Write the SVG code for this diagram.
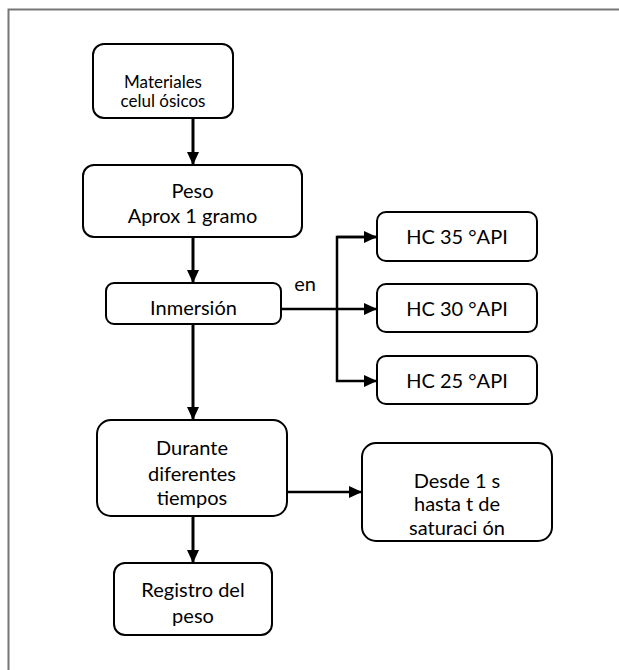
<svg xmlns="http://www.w3.org/2000/svg" width="619" height="670" viewBox="0 0 619 670">
<style>
.box{fill:#fff;stroke:#000;stroke-width:2}
.t{font-family:Lato,"Open Sans",sans-serif;font-size:20px;fill:#000;text-anchor:middle}
.s{font-size:17px}
.c{stroke:#000;stroke-width:3;fill:none}
.c2{stroke:#000;stroke-width:2.5;fill:none}
</style>
<defs>
<marker id="ah" markerUnits="userSpaceOnUse" markerWidth="14" markerHeight="14" refX="13" refY="7" orient="auto">
<path d="M0,1 L13,7 L0,13 Z" fill="#000"/>
</marker>
</defs>
<path d="M8.5,670 L8.5,9.5 L619,9.5" fill="none" stroke="#777" stroke-width="2"/>
<g id="connectors">
<line class="c" x1="193" y1="118" x2="193" y2="165" marker-end="url(#ah)"/>
<line class="c" x1="193" y1="237" x2="193" y2="283" marker-end="url(#ah)"/>
<line class="c" x1="193" y1="324" x2="193" y2="420" marker-end="url(#ah)"/>
<line class="c" x1="193" y1="516" x2="193" y2="563" marker-end="url(#ah)"/>
<line class="c2" x1="281" y1="309" x2="377" y2="309" marker-end="url(#ah)"/>
<polyline class="c2" points="377,237 337,237 337,381 377,381" marker-end="url(#ah)"/>
<line class="c2" x1="337" y1="237" x2="377" y2="237" marker-end="url(#ah)"/>
<line class="c2" x1="287" y1="492" x2="362" y2="492" marker-end="url(#ah)"/>
<text class="t" x="305" y="291">en</text>
</g>
<g id="n1"><rect class="box" x="93" y="44" width="140" height="74" rx="11"/>
<text class="t s" x="163" y="88">Materiales</text><text class="t s" x="163" y="107">celul ósicos</text></g>
<g id="n2"><rect class="box" x="83" y="165" width="219" height="72" rx="11"/>
<text class="t" x="192.5" y="198">Peso</text><text class="t" x="192.5" y="223">Aprox 1 gramo</text></g>
<g id="n3"><rect class="box" x="106" y="283" width="175" height="41" rx="8"/>
<text class="t" x="193.5" y="315">Inmersión</text></g>
<g id="n4"><rect class="box" x="377" y="212" width="160" height="49" rx="9"/>
<text class="t" x="457" y="244">HC 35 °API</text></g>
<g id="n5"><rect class="box" x="377" y="284" width="160" height="48" rx="9"/>
<text class="t" x="457" y="316">HC 30 °API</text></g>
<g id="n6"><rect class="box" x="377" y="356" width="160" height="48" rx="9"/>
<text class="t" x="457" y="388">HC 25 °API</text></g>
<g id="n7"><rect class="box" x="97" y="420" width="190" height="96" rx="14"/>
<text class="t" x="192" y="455">Durante</text><text class="t" x="192" y="481">diferentes</text><text class="t" x="192" y="505">tiempos</text></g>
<g id="n8"><rect class="box" x="362" y="443" width="190" height="98" rx="14"/>
<text class="t" x="457" y="488">Desde 1 s</text><text class="t" x="457" y="511">hasta t de</text><text class="t" x="457" y="535">saturaci ón</text></g>
<g id="n9"><rect class="box" x="114" y="563" width="158" height="72" rx="11"/>
<text class="t" x="193" y="597">Registro del</text><text class="t" x="193" y="623">peso</text></g>
</svg>
